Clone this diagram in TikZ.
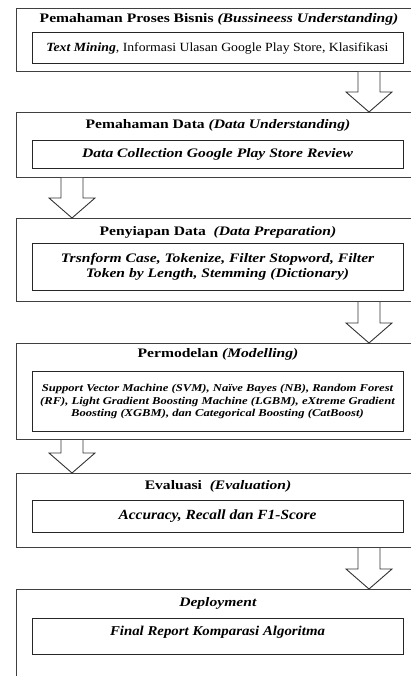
\documentclass[tikz,border=0pt]{standalone}
\usepackage{fontspec}
\setmainfont{Liberation Serif}[FakeStretch=1.1]
\newfontfamily\wideserif{Liberation Serif}[FakeStretch=1.2]
\usetikzlibrary{calc}

\tikzset{
  stage/.style={draw=black!75,line width=1pt,anchor=north west,minimum width=420pt},
  stagetitle/.style={font=\wideserif\fontsize{13}{15}\selectfont\bfseries,inner sep=0pt},
  task/.style={draw=black!85,line width=1pt,anchor=north,minimum width=371pt,
    align=center,inner sep=1pt,font=\fontsize{12.5}{15}\selectfont},
  widetask/.style={task,font=\wideserif\fontsize{13}{15}\selectfont\bfseries\itshape},
  blockarrow/.style={draw=black!80,line width=0.9pt,fill=white,line join=miter}
}

% hollow down arrow from one stage to the next, centred at x = #3
\newcommand{\downblock}[3]{%
  \draw[blockarrow] let \p1=(#1.south), \p2=(#2.north) in
    (#3pt-11pt,\y1) -- (#3pt-11pt,\y2+20pt) -- (#3pt-23pt,\y2+20pt)
    -- (#3pt,\y2) -- (#3pt+23pt,\y2+20pt) -- (#3pt+11pt,\y2+20pt)
    -- (#3pt+11pt,\y1);}

\begin{document}
\begin{tikzpicture}[x=1pt,y=-1pt]
  \useasboundingbox (0,0) rectangle (411,676);
  \clip (0,0) rectangle (411,676);

  % stages
  \node[stage,minimum height=63pt] (bisnis) at (16,8) {};
  \node[stage,minimum height=65pt] (data) at (16,112) {};
  \node[stage,minimum height=83pt] (prep) at (16,218) {};
  \node[stage,minimum height=96pt] (model) at (16,343) {};
  \node[stage,minimum height=74pt] (eval) at (16,473) {};
  \node[stage,minimum height=120pt] (deploy) at (16,589) {};

  % titles
  \node[stagetitle] (bisnisT) at (219,19) {Pemahaman Proses Bisnis \textit{(Bussineess Understanding)}};
  \node[stagetitle] (dataT) at (218,125) {Pemahaman Data \textit{(Data Understanding)}};
  \node[stagetitle] (prepT) at (218,232) {Penyiapan Data\ \ \textit{(Data Preparation)}};
  \node[stagetitle] (modelT) at (218,354) {Permodelan \textit{(Modelling)}};
  \node[stagetitle] (evalT) at (218,486) {Evaluasi\ \ \textit{(Evaluation)}};
  \node[stagetitle] (deployT) at (218,603) {\textit{Deployment}};

  % tasks
  \node[task,minimum height=31pt] (bisnisI) at (217.5,32)
    {\textbf{\textit{Text Mining}}, Informasi Ulasan Google Play Store, Klasifikasi};
  \node[widetask,minimum height=28pt] (dataI) at (217.5,140)
    {Data Collection Google Play Store Review};
  \node[widetask,minimum height=47pt] (prepI) at (217.5,243)
    {Trsnform Case, Tokenize, Filter Stopword, Filter\\Token by Length, Stemming (Dictionary)};
  \node[widetask,minimum height=60pt,font=\wideserif\fontsize{10.5}{12.7}\selectfont\bfseries\itshape] (modelI) at (217.5,371)
    {Support Vector Machine (SVM), Naïve Bayes (NB), Random Forest\\
     (RF), Light Gradient Boosting Machine (LGBM), eXtreme Gradient\\
     Boosting (XGBM), dan Categorical Boosting (CatBoost)};
  \node[task,minimum height=32pt,font=\fontsize{14}{16}\selectfont\bfseries\itshape] (evalI) at (217.5,500)
    {Accuracy, Recall dan F1-Score};
  \node[task,minimum height=36pt,text depth=12pt,font=\fontsize{13.5}{16}\selectfont\bfseries\itshape] (deployI) at (217.5,618)
    {Final Report Komparasi Algoritma};

  % arrows between stages
  \downblock{bisnis}{data}{369}
  \downblock{data}{prep}{72}
  \downblock{prep}{model}{369}
  \downblock{model}{eval}{72}
  \downblock{eval}{deploy}{369}
\end{tikzpicture}
\end{document}
